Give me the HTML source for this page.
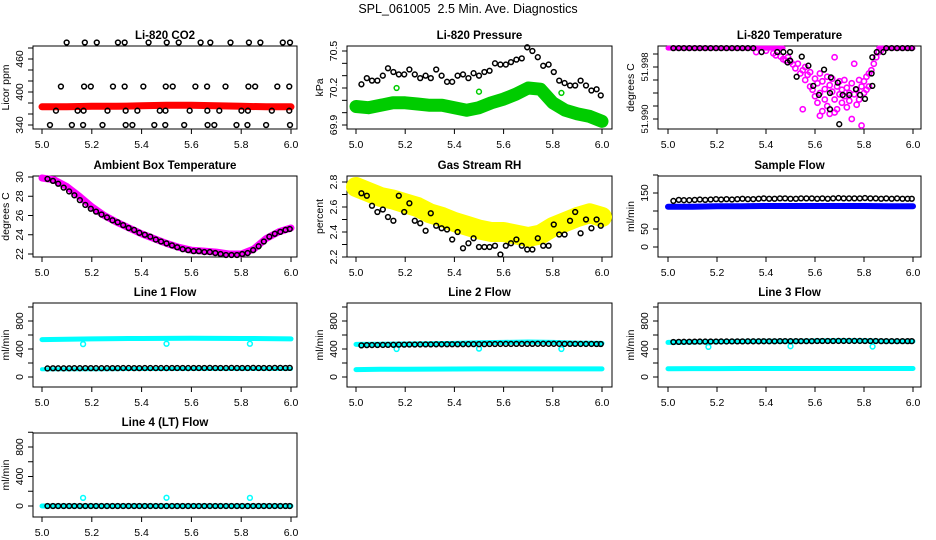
<!DOCTYPE html>
<html><head><meta charset="utf-8"><style>
html,body{margin:0;padding:0;background:#fff;}
svg{display:block;font-family:"Liberation Sans",sans-serif;}
</style></head><body>
<svg id="chart" width="936" height="540" viewBox="0 0 936 540">
<rect x="0" y="0" width="936" height="540" fill="#fff"/>
<text x="468" y="13" text-anchor="middle" font-size="12.5">SPL_061005&#160; 2.5 Min. Ave. Diagnostics</text>
</svg>
<script>
// ---- shared data ----
const sampleTimes = [5.022,5.044,5.065,5.087,5.109,5.130,5.152,5.174,5.196,5.217,5.239,5.261,5.283,5.304,5.326,5.348,5.370,5.391,5.413,5.435,5.457,5.478,5.500,5.522,5.543,5.565,5.587,5.609,5.630,5.652,5.674,5.696,5.717,5.739,5.761,5.783,5.804,5.826,5.848,5.870,5.891,5.913,5.935,5.957,5.978,5.995];
const bandTimes11 = [5.0,5.1,5.2,5.3,5.4,5.5,5.6,5.7,5.8,5.9,6.0];
const bandTimes21 = [5.0,5.05,5.1,5.15,5.2,5.25,5.3,5.35,5.4,5.45,5.5,5.55,5.6,5.65,5.7,5.75,5.8,5.85,5.9,5.95,6.0];
const xTickValues = [5.0,5.2,5.4,5.6,5.8,6.0];
const xTickLabels = ["5.0","5.2","5.4","5.6","5.8","6.0"];
const outlierTimes = [5.165,5.5,5.835];

// CO2
const co2BlackT = [5.099,5.172,5.220,5.305,5.332,5.428,5.501,5.549,5.637,5.676,5.757,5.831,5.877,5.967,5.996,
 5.076,5.169,5.196,5.285,5.332,5.407,5.497,5.525,5.616,5.663,5.737,5.829,5.856,5.945,5.993,
 5.056,5.143,5.167,5.263,5.336,5.383,5.473,5.496,5.593,5.664,5.712,5.801,5.827,5.923,5.993,
 5.032,5.120,5.165,5.243,5.336,5.363,5.451,5.495,5.571,5.665,5.692,5.781,5.825,5.900,5.996];
const co2BlackV = [490,490,490,490,490,490,490,490,490,490,490,490,490,490,490,
 410,410,410,410,410,410,410,410,410,410,410,410,410,410,410,
 366,366,366,366,366,366,366,366,366,366,366,366,366,366,366,
 340,340,340,340,340,340,340,340,340,340,340,340,340,340,340];
const co2Red = [373,373,374,374,375,376,376,375,374,373,373];

// Pressure
const presBlack = [70.23,70.28,70.26,70.26,70.30,70.36,70.33,70.31,70.31,70.35,70.31,70.28,70.30,70.28,70.35,70.30,70.25,70.25,70.30,70.31,70.28,70.32,70.30,70.33,70.34,70.40,70.39,70.39,70.41,70.43,70.44,70.53,70.50,70.45,70.38,70.39,70.33,70.26,70.24,70.22,70.22,70.26,70.22,70.18,70.19,70.14];
const presGreen = [70.05,70.04,70.06,70.08,70.08,70.07,70.06,70.06,70.04,70.02,70.04,70.08,70.11,70.15,70.20,70.19,70.08,70.02,69.99,69.97,69.93];
const presGreenOut = [70.20,70.17,70.16];

// Temperature
const tempTopV = 52.0009;
const tempTopSegments = [[5.0,5.47],[5.86,6.0]];
const tempMagT = [5.36,5.40,5.43,5.44,5.46,5.47,5.48,5.49,5.50,5.51,5.52,5.53,5.54,5.55,5.56,5.56,5.57,5.58,5.58,5.59,5.60,5.60,5.61,5.61,5.62,5.62,5.63,5.63,5.64,5.64,5.65,5.65,5.66,5.66,5.67,5.67,5.68,5.68,5.69,5.69,5.70,5.70,5.71,5.71,5.72,5.72,5.73,5.73,5.74,5.74,5.75,5.75,5.76,5.76,5.77,5.77,5.78,5.78,5.79,5.79,5.80,5.80,5.81,5.81,5.82,5.82,5.83,5.84,5.85,5.86,5.87,5.55,5.62,5.68];
const tempMagV = [52.0003,52.0005,52.0001,51.9998,51.9996,51.9992,51.9990,51.9995,51.9988,51.9984,51.9978,51.9985,51.9970,51.9975,51.9960,51.9980,51.9968,51.9950,51.9972,51.9945,51.9962,51.9935,51.9955,51.9925,51.9970,51.9940,51.9912,51.9958,51.9946,51.9930,51.9965,51.9920,51.9952,51.9908,51.9942,51.9962,51.9930,51.9995,51.9950,51.9915,51.9938,51.9958,51.9925,51.9945,51.9935,51.9960,51.9918,51.9948,51.9940,51.9928,51.9955,51.9900,51.9985,51.9938,51.9945,51.9922,51.9960,51.9930,51.9950,51.9890,51.9940,51.9958,51.9945,51.9965,51.9970,51.9950,51.9975,51.9985,51.9995,52.0003,52.0006,51.9915,51.9905,51.9910];
const tempBlackT = [5.022,5.044,5.065,5.087,5.109,5.130,5.152,5.174,5.196,5.217,5.239,5.261,5.283,5.304,5.326,5.348,5.382,5.446,5.471,5.488,5.498,5.498,5.525,5.546,5.573,5.593,5.616,5.637,5.661,5.661,5.665,5.693,5.699,5.713,5.740,5.767,5.784,5.804,5.831,5.834,5.834,5.852,5.879,5.891,5.913,5.935,5.957,5.978,5.995];
const tempBlackV = [52.0009,52.0009,52.0009,52.0009,52.0009,52.0009,52.0009,52.0009,52.0009,52.0009,52.0009,52.0009,52.0009,52.0009,52.0009,52.0009,52.0003,52.0003,52.0003,51.9987,52.0003,51.9990,51.9965,51.9996,51.9982,51.9951,51.9937,51.9976,51.9915,51.9940,51.9964,51.9956,51.9892,51.9937,51.9937,51.9946,51.9937,51.9931,51.9970,51.9951,51.9995,52.0003,52.0003,52.0009,52.0009,52.0009,52.0009,52.0009,52.0009];

// Ambient
const ambBlack = [29.8,29.6,29.3,28.9,28.5,28.1,27.6,27.1,26.7,26.4,26.1,25.8,25.5,25.3,25.0,24.7,24.5,24.2,24.0,23.8,23.5,23.3,23.1,22.9,22.7,22.5,22.4,22.3,22.3,22.2,22.2,22.1,22.0,21.9,21.9,21.9,22.0,22.1,22.4,22.8,23.3,23.8,24.1,24.3,24.5,24.6];
const ambMagenta = [29.9,29.7,29.0,28.0,26.9,26.0,25.3,24.7,24.1,23.6,23.1,22.7,22.4,22.3,22.2,22.0,22.0,22.5,23.6,24.3,24.7];

// RH
const rhBlack = [2.71,2.69,2.61,2.56,2.58,2.52,2.49,2.69,2.56,2.63,2.49,2.47,2.41,2.55,2.45,2.43,2.42,2.34,2.40,2.27,2.31,2.35,2.28,2.28,2.28,2.29,2.22,2.29,2.31,2.34,2.29,2.26,2.26,2.35,2.29,2.29,2.46,2.38,2.38,2.49,2.56,2.39,2.50,2.43,2.50,2.45];
const rhYellow = [2.76,2.72,2.68,2.66,2.63,2.60,2.55,2.52,2.48,2.45,2.42,2.40,2.40,2.38,2.36,2.38,2.44,2.48,2.52,2.55,2.52];

// Sample flow
const sampleBlack = [128,131,130,130,131,132,131,132,133,132,133,132,133,134,133,133,134,135,134,134,135,135,134,134,135,135,135,134,135,134,135,136,135,135,135,135,136,135,135,134,135,134,135,134,134,134];
const sampleBlue = [112,112,113,113,114,114,114,114,114,113,113];

// Line flows
const line1Black = [122,125,124,124,125,126,126,127,127,126,126,127,127,127,128,128,127,127,128,128,128,128,128,129,129,129,128,129,129,129,130,129,129,129,130,129,129,129,130,129,129,129,130,130,129,130];
const line1CyanHigh = [535,540,545,548,550,552,553,552,550,548,545];
const line1CyanLow = [110,112,112,113,114,114,115,115,115,115,116];
const line1CyanDip = [470,475,475];
const line2Black = [452,455,456,457,458,459,460,462,463,464,464,465,466,466,467,467,468,468,468,469,469,470,470,470,471,471,472,472,472,473,473,473,473,474,474,474,474,474,473,473,473,472,472,472,471,471];
const line2CyanHigh = [465,468,472,475,480,490,495,500,495,485,480];
const line2CyanLow = [105,110,112,113,114,115,115,115,115,115,115];
const line2CyanDip = [400,405,400];
const line3Black = [500,502,503,504,505,506,506,507,507,508,508,509,509,509,510,510,510,511,511,511,512,512,512,512,513,513,513,514,514,514,514,515,515,515,515,515,514,514,514,513,513,513,512,512,512,512];
const line3CyanHigh = [495,500,505,508,510,512,515,520,518,512,508];
const line3CyanLow = [118,120,120,121,121,122,122,122,122,122,122];
const line3CyanDip = [430,440,435];
const line4Black = [0,0,0,0,0,0,0,0,0,0,0,0,0,0,0,0,0,0,0,0,0,0,0,0,0,0,0,0,0,0,0,0,0,0,0,0,0,0,0,0,0,0,0,0,0,0];
const line4Cyan = [0,0,0,0,0,0,0,0,0,0,0];
const line4CyanOut = [110,112,110];

const NS = "http://www.w3.org/2000/svg";
const svg = document.getElementById("chart");
function mk(tag, attrs, parent) {
  const e = document.createElementNS(NS, tag);
  for (const k in attrs) e.setAttribute(k, attrs[k]);
  (parent || svg).appendChild(e);
  return e;
}
const cols = [
  {bx0:33, bx1:297, a:42, b:291},
  {bx0:347, bx1:612, a:356, b:602},
  {bx0:658, bx1:921, a:668, b:913}
];
const rows = [{by0:46, by1:129},{by0:176, by1:257},{by0:303, by1:387},{by0:433, by1:517}];

function makePanel(key, ci, ri, title, ylab, v0, p0, v1, p1, yTicks, yLabels, yfs) {
  const c = cols[ci], r = rows[ri];
  const g = mk("g", {});
  
  
  const sx = v => c.a + (v - 5.0) * (c.b - c.a);
  const sy = v => p0 + (v - v0) * (p1 - p0) / (v1 - v0);
  const t = mk("text", {x:(c.bx0+c.bx1)/2, y:r.by0-7, "text-anchor":"middle", "font-size":"11.5", "font-weight":"bold"}, g);
  t.textContent = title;
  
  
  const box = mk("rect", {x:c.bx0, y:r.by0, width:c.bx1-c.bx0, height:r.by1-r.by0, fill:"none", stroke:"#000", "stroke-width":"1"}, g);
  
  
  const xa = mk("g", {}, g);
  
  
  mk("line", {x1:sx(xTickValues[0]), x2:sx(xTickValues[xTickValues.length-1]), y1:r.by1, y2:r.by1, stroke:"#000"}, xa);
  xTickValues.forEach((v,i) => {
    mk("line", {x1:sx(v), x2:sx(v), y1:r.by1, y2:r.by1+5, stroke:"#000"}, xa);
    const tl = mk("text", {x:sx(v), y:r.by1+19, "text-anchor":"middle", "font-size":"10.5"}, xa);
    tl.textContent = xTickLabels[i];
    
    
  });
  const ya = mk("g", {}, g);
  
  
  mk("line", {x1:c.bx0, x2:c.bx0, y1:sy(yTicks[0]), y2:sy(yTicks[yTicks.length-1]), stroke:"#000"}, ya);
  yTicks.forEach(v => {
    mk("line", {x1:c.bx0-5, x2:c.bx0, y1:sy(v), y2:sy(v), stroke:"#000"}, ya);
  });
  yLabels.forEach(v => {
    const yy = sy(v), xx = c.bx0 - 10;
    const tl = mk("text", {x:xx, y:yy, "text-anchor":"middle", "font-size":yfs||"10.5", transform:`rotate(-90 ${xx} ${yy})`}, ya);
    tl.textContent = String(v);
    
    
  });
  const yc = (r.by0 + r.by1) / 2, xt = c.bx0 - 24;
  const yt = mk("text", {x:xt, y:yc, "text-anchor":"middle", "font-size":"10.5", transform:`rotate(-90 ${xt} ${yc})`}, g);
  yt.textContent = ylab;
  
  
  return {g, sx, sy};
}
function circles(P, key, ts, vs, color, rad, sw) {
  const gg = mk("g", {}, P.g);
  
  
  ts.forEach((t,i) => {
    const c = mk("circle", {cx:P.sx(t), cy:P.sy(vs[i]), r:rad||2.4, fill:"none", stroke:color, "stroke-width":sw||1.5}, gg);
    
    
  });
}
function band(P, key, ts, vs, color, w) {
  const pts = ts.map((t,i) => P.sx(t).toFixed(1) + "," + P.sy(vs[i]).toFixed(1)).join(" ");
  const pl = mk("polyline", {points:pts, fill:"none", stroke:color, "stroke-width":w, "stroke-linejoin":"round", "stroke-linecap":"round"}, P.g);
  
  
}

// CO2
let P = makePanel("co2", 0, 0, "Li-820 CO2", "Licor ppm", 340, 125, 460, 59, [340,360,380,400,420,440,460,480], [340,400,460]);
band(P, "co2-red-series", bandTimes11, co2Red, "#f00", 7);
circles(P, "co2-black-series", co2BlackT, co2BlackV, "#000");

// Pressure
P = makePanel("pressure", 1, 0, "Li-820 Pressure", "kPa", 69.9, 125, 70.5, 51, [69.9,70.0,70.1,70.2,70.3,70.4,70.5], ["69.9","70.2","70.5"]);
band(P, "pressure-green-series", bandTimes21, presGreen, "#0c0", 13);
circles(P, "pressure-green-outliers", outlierTimes, presGreenOut, "#0c0");
circles(P, "pressure-black-series", sampleTimes, presBlack, "#000");

// Temperature
P = makePanel("temperature", 2, 0, "Li-820 Temperature", "degrees C", 51.990, 119, 51.998, 67, [51.990,51.992,51.994,51.996,51.998,52.000], ["51.990","51.998"], "9.5");
tempTopSegments.forEach(s => band(P, "temperature-magenta-top", s, [tempTopV, tempTopV], "#f0f", 5));
circles(P, "temperature-magenta-series", tempMagT, tempMagV, "#f0f", 2.6, 1.6);
circles(P, "temperature-black-series", tempBlackT, tempBlackV, "#000");

// Ambient
P = makePanel("ambient", 0, 1, "Ambient Box Temperature", "degrees C", 22, 254, 30, 177, [22,24,26,28,30], [22,24,26,28,30]);
band(P, "ambient-magenta-series", bandTimes21, ambMagenta, "#f0f", 7);
circles(P, "ambient-black-series", sampleTimes, ambBlack, "#000");

// RH
P = makePanel("rh", 1, 1, "Gas Stream RH", "percent", 2.2, 257, 2.8, 182, [2.2,2.3,2.4,2.5,2.6,2.7,2.8], ["2.2","2.4","2.6","2.8"]);
band(P, "rh-yellow-series", bandTimes21, rhYellow, "#ff0", 20);
circles(P, "rh-black-series", sampleTimes, rhBlack, "#000");

// Sample flow
P = makePanel("sample-flow", 2, 1, "Sample Flow", "ml/min", 0, 247, 150, 193, [0,50,100,150,200], [0,50,150]);
band(P, "sample-flow-blue-series", bandTimes11, sampleBlue, "#00f", 6);
circles(P, "sample-flow-black-series", sampleTimes, sampleBlack, "#000");

// Line flows
const flowTicks = [0,200,400,600,800,1000], flowLabels = [0,400,800];
P = makePanel("line1-flow", 0, 2, "Line 1 Flow", "ml/min", 0, 377, 800, 321, flowTicks, flowLabels);
band(P, "line1-cyan-high", bandTimes11, line1CyanHigh, "#0ff", 5);
band(P, "line1-cyan-low", bandTimes11, line1CyanLow, "#0ff", 4);
circles(P, "line1-cyan-dips", outlierTimes, line1CyanDip, "#0ff");
circles(P, "line1-black-series", sampleTimes, line1Black, "#000");

P = makePanel("line2-flow", 1, 2, "Line 2 Flow", "ml/min", 0, 377, 800, 321, flowTicks, flowLabels);
band(P, "line2-cyan-high", bandTimes11, line2CyanHigh, "#0ff", 5);
band(P, "line2-cyan-low", bandTimes11, line2CyanLow, "#0ff", 5);
circles(P, "line2-cyan-dips", outlierTimes, line2CyanDip, "#0ff");
circles(P, "line2-black-series", sampleTimes, line2Black, "#000");

P = makePanel("line3-flow", 2, 2, "Line 3 Flow", "ml/min", 0, 377, 800, 321, flowTicks, flowLabels);
band(P, "line3-cyan-high", bandTimes11, line3CyanHigh, "#0ff", 5);
band(P, "line3-cyan-low", bandTimes11, line3CyanLow, "#0ff", 5);
circles(P, "line3-cyan-dips", outlierTimes, line3CyanDip, "#0ff");
circles(P, "line3-black-series", sampleTimes, line3Black, "#000");

P = makePanel("line4-flow", 0, 3, "Line 4 (LT) Flow", "ml/min", 0, 506, 800, 447, flowTicks, flowLabels);
band(P, "line4-cyan-series", bandTimes11, line4Cyan, "#0ff", 5);
circles(P, "line4-cyan-outliers", outlierTimes, line4CyanOut, "#0ff");
circles(P, "line4-black-series", sampleTimes, line4Black, "#000");
</script>
</body></html>
